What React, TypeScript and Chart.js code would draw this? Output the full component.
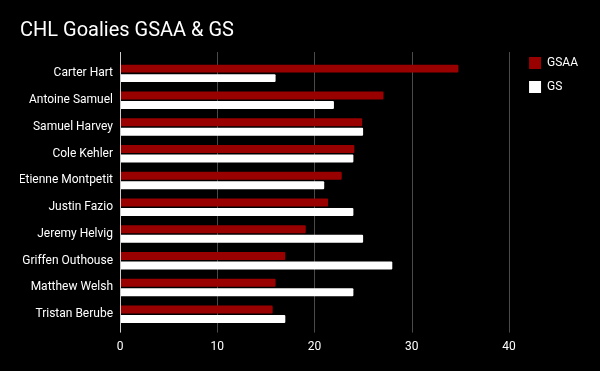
import React, { useEffect, useRef } from "react";
import { Chart, registerables } from "chart.js";

Chart.register(...registerables);

const goalies = [
  "Carter Hart",
  "Antoine Samuel",
  "Samuel Harvey",
  "Cole Kehler",
  "Etienne Montpetit",
  "Justin Fazio",
  "Jeremy Helvig",
  "Griffen Outhouse",
  "Matthew Welsh",
  "Tristan Berube",
];
const gsaaValues = [34.8, 27.1, 24.9, 24.1, 22.8, 21.4, 19.1, 17.0, 16.0, 15.7];
const gsValues = [16, 22, 25, 24, 21, 24, 25, 28, 24, 17];
const xTickStep = 10;
const xMax = 40.83;

const gridPlugin = {
  id: "extendedGrid",
  beforeDatasetsDraw(chart: any) {
    const { ctx, chartArea, scales } = chart;
    const xs = scales.x;
    ctx.save();
    ctx.lineWidth = 1;
    xs.ticks.forEach((t: any) => {
      if (t.value === 0) return;
      const x = Math.round(xs.getPixelForValue(t.value)) + 0.5;
      ctx.strokeStyle = "#4a4a4a";
      ctx.beginPath();
      ctx.moveTo(x, chartArea.top - 8);
      ctx.lineTo(x, chartArea.bottom + 5);
      ctx.stroke();
    });
    ctx.restore();
  },
  afterDatasetsDraw(chart: any) {
    const { ctx, chartArea, scales } = chart;
    const xs = scales.x;
    const x = Math.round(xs.getPixelForValue(0)) + 0.5;
    ctx.save();
    ctx.lineWidth = 1;
    ctx.strokeStyle = "#cccccc";
    ctx.beginPath();
    ctx.moveTo(x, chartArea.top - 8);
    ctx.lineTo(x, chartArea.bottom + 5);
    ctx.stroke();
    ctx.restore();
  },
};

const legendShift = {
  id: "legendShift",
  afterLayout(chart: any) {
    const l = chart.legend;
    if (l) {
      l.top += 45;
      l.bottom += 45;
    }
  },
};

export default function App() {
  const ref = useRef<HTMLCanvasElement | null>(null);
  useEffect(() => {
    if (!ref.current) return;
    Chart.defaults.font.family = "Roboto";
    const chart = new Chart(ref.current, {
      type: "bar",
      data: {
        labels: goalies,
        datasets: [
          {
            label: "GSAA",
            data: gsaaValues,
            backgroundColor: "#990000",
            borderWidth: 0,
            borderRadius: 1,
            borderSkipped: "start",
          },
          {
            label: "GS",
            data: gsValues,
            backgroundColor: "#ffffff",
            borderWidth: 0,
            borderRadius: 1,
            borderSkipped: "start",
          },
        ],
      },
      options: {
        indexAxis: "y",
        responsive: false,
        animation: false,
        datasets: {
          bar: { categoryPercentage: 0.71, barPercentage: 0.84 },
        },
        layout: { padding: { left: 20, right: 12, top: 0, bottom: 5 } },
        scales: {
          x: {
            min: 0,
            max: xMax,
            grid: { display: false, drawTicks: false },
            border: { display: false },
            ticks: {
              stepSize: xTickStep,
              includeBounds: false,
              padding: 12,
              color: "#ffffff",
              font: { size: 12, family: "Roboto" },
            },
          },
          y: {
            grid: { display: false, drawTicks: false },
            border: { display: false },
            afterFit: (s: any) => {
              s.width = 100;
            },
            ticks: {
              padding: 7,
              color: "#ffffff",
              font: { size: 12, family: "Roboto" },
            },
          },
        },
        plugins: {
          title: {
            display: true,
            text: "CHL Goalies GSAA & GS",
            align: "start",
            color: "#ffffff",
            font: { size: 20, family: "Roboto", weight: "normal" },
            padding: { top: 19, bottom: 17 },
          },
          legend: {
            position: "right",
            align: "start",
            labels: {
              boxWidth: 12,
              boxHeight: 12,
              padding: 12,
              color: "#ffffff",
              font: { size: 12, family: "Roboto" },
            },
          },
          tooltip: { enabled: false },
        },
      },
      plugins: [gridPlugin, legendShift],
    });
    return () => chart.destroy();
  }, []);
  return (
    <div
      style={{
        position: "absolute",
        left: 0,
        top: 0,
        width: 600,
        height: 371,
        background: "#000000",
      }}
    >
      <canvas ref={ref} width={600} height={371} style={{ display: "block" }} />
    </div>
  );
}
